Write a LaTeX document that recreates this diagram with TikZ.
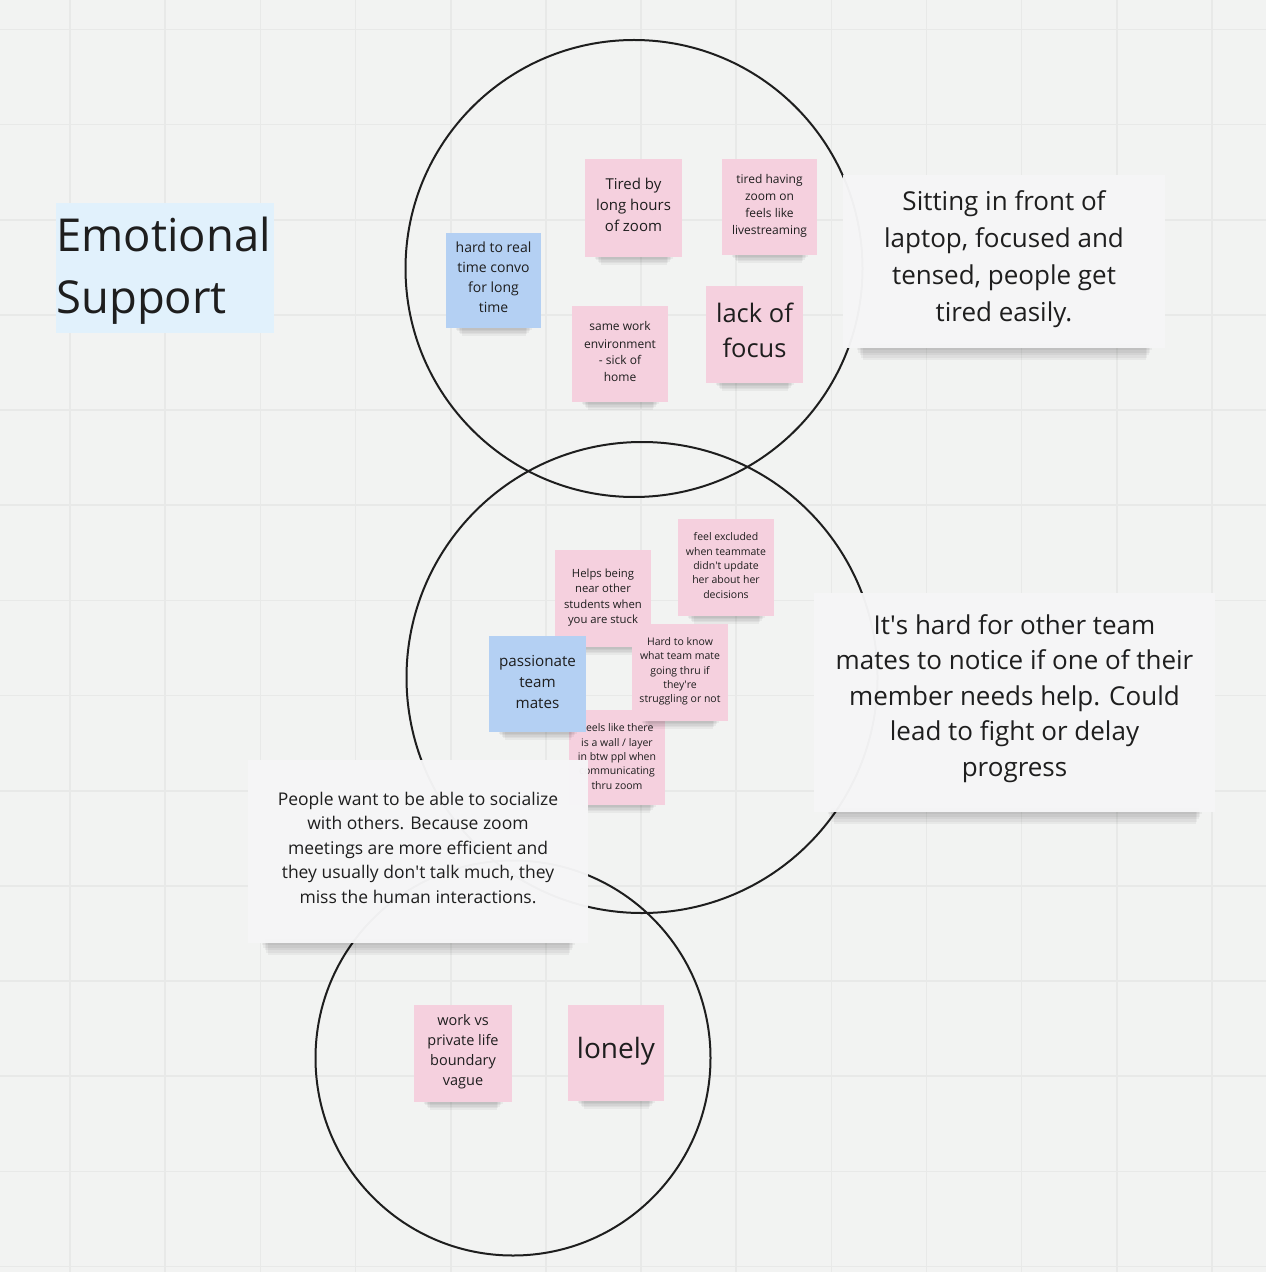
\documentclass[tikz,border=0pt]{standalone}
\usepackage{fontspec}
\setmainfont{Open Sans}
\newcommand\myfs[2]{\fontsize{#1}{#2}\selectfont}
% soft shadow below a box: x1, x2, y bottom, spread (pixels)
\newcommand\shd[4]{%
  \foreach \k in {1,...,5}{%
    \fill[black,opacity=0.045] ({#1+#4+\k*1.5},{#3-4}) rectangle ({#2-#4-\k*1.5},{#3+#4*\k/5});
  }}
\definecolor{bgc}{HTML}{F2F3F2}
\definecolor{gridc}{HTML}{E8E9E8}
\definecolor{pinkn}{HTML}{F5D0DE}
\definecolor{bluen}{HTML}{B4D0F3}
\definecolor{titlec}{HTML}{E1F1FC}
\definecolor{boxc}{HTML}{F6F6F7}
\definecolor{ink}{HTML}{1E1E1E}
\tikzset{
  note/.style={inner sep=0pt},
  pinknote/.style={note, fill=pinkn},
  bluenote/.style={note, fill=bluen},
  ntext/.style={inner sep=0pt, align=center, text=ink},
  tbox/.style={fill=boxc, fill opacity=0.97, inner sep=0pt},
  ring/.style={draw=ink, line width=1pt},
}
\begin{document}
\begin{tikzpicture}[x=0.5pt,y=-0.5pt]
\useasboundingbox (0,0) rectangle (1266,1272);
\fill[bgc] (0,0) rectangle (1266,1272);
\foreach \i in {0,...,12} \draw[gridc, line width=0.8pt] ({70.1+95.15*\i},0) -- ({70.1+95.15*\i},1272);
\foreach \i in {0,...,13} \draw[gridc, line width=0.8pt] (0,{29.5+95.15*\i}) -- (1266,{29.5+95.15*\i});

% title
\node[fill=titlec, minimum width=109pt, minimum height=65pt, inner sep=0pt] (title) at (165,268) {};
\node[text=ink, text width=108pt, inner sep=0pt, align=left, font=\myfs{22.7}{31}] (titletext) at (164.5,270.5) {Emotional\\Support};

% circles
\node[ring, circle, minimum size=228.5pt, inner sep=0pt] (c1) at (634,268.5) {};
\node[ring, circle, minimum size=235.5pt, inner sep=0pt] (c2) at (642,677.5) {};
\node[ring, circle, minimum size=197.5pt, inner sep=0pt] (c3) at (513,1058) {};

% circle 1 notes
\shd{446}{541}{328}{8}
\node[bluenote, minimum width=47.5pt, minimum height=47.5pt] (n1) at (493.5,280.5) {};
\node[ntext, font=\myfs{7}{10}] (n1t) at ([yshift=1.5pt]n1.center) {hard to real\\time convo\\for long\\time};
\shd{585}{682}{257}{8}
\node[pinknote, minimum width=48.5pt, minimum height=49pt] (n2) at (633.5,208) {};
\node[ntext, font=\myfs{7.5}{10.5}] (n2t) at ([yshift=1.5pt]n2.center) {Tired by\\long hours\\of zoom};
\shd{722}{817}{255}{8}
\node[pinknote, minimum width=47.5pt, minimum height=48pt] (n3) at (769.5,207) {};
\node[ntext, font=\myfs{6}{8.5}] (n3t) at ([yshift=0.5pt]n3.center) {tired having\\zoom on\\feels like\\livestreaming};
\shd{572}{668}{402}{8}
\node[pinknote, minimum width=48pt, minimum height=48pt] (n4) at (620,354) {};
\node[ntext, font=\myfs{6}{8.5}] (n4t) at ([yshift=1pt]n4.center) {same work\\environment\\- sick of\\home};
\shd{706}{803}{383}{8}
\node[pinknote, minimum width=48.5pt, minimum height=48.5pt] (n5) at (754.5,334.5) {};
\node[ntext, font=\myfs{12.75}{17.5}] (n5t) at ([yshift=2pt]n5.center) {lack of\\focus};

% text box A
\shd{843}{1165}{348}{12}
\node[tbox, minimum width=161pt, minimum height=86.5pt] (ta) at (1004,261.5) {};
\node[ntext, font=\myfs{13}{18.5}] (tat) at ([yshift=1pt]ta.center) {Sitting in front of\\laptop, focused and\\tensed, people get\\tired easily.};

% circle 2 notes
\shd{569}{665}{805}{8}
\node[pinknote, minimum width=48pt, minimum height=47.5pt] (n10) at (617,757.5) {};
\node[ntext, font=\myfs{5.25}{7.15}] (n10t) at ([yshift=0.5pt]n10.center) {Feels like there\\is a wall / layer\\in btw ppl when\\communicating\\thru zoom};
\shd{555}{651}{647}{8}
\node[pinknote, minimum width=48pt, minimum height=48.5pt] (n7) at (603,598.5) {};
\node[ntext, font=\myfs{5.65}{7.65}] (n7t) at ([yshift=0.5pt]n7.center) {Helps being\\near other\\students when\\you are stuck};
\shd{678}{774}{616}{8}
\node[pinknote, minimum width=48pt, minimum height=48.5pt] (n6) at (726,567.5) {};
\node[ntext, font=\myfs{5.25}{7.15}] (n6t) at ([yshift=1pt]n6.center) {feel excluded\\when teammate\\didn\textquotesingle t update\\her about her\\decisions};
\shd{489}{586}{732}{8}
\node[bluenote, minimum width=48.5pt, minimum height=48pt] (n9) at (537.5,684) {};
\node[ntext, font=\myfs{7.6}{10.5}] (n9t) at ([yshift=1pt]n9.center) {passionate\\team\\mates};
\shd{632}{728}{721}{8}
\node[pinknote, minimum width=48pt, minimum height=48.5pt] (n8) at (680,672.5) {};
\node[ntext, font=\myfs{5.25}{7.15}] (n8t) at ([yshift=0.5pt]n8.center) {Hard to know\\what team mate\\going thru if\\they\textquotesingle re\\struggling or not};

% text box B
\shd{814}{1215}{812}{12}
\node[tbox, minimum width=200.5pt, minimum height=109.5pt] (tb) at (1014.5,702.5) {};
\node[ntext, font=\myfs{13}{17.75}] (tbt) at ([yshift=2pt]tb.center) {It\textquotesingle s hard for other team\\mates to notice if one of their\\member needs help. Could\\lead to fight or delay\\progress};

% text box C
\shd{248}{588}{943}{12}
\node[tbox, minimum width=170pt, minimum height=91.5pt] (tc) at (418,851.5) {};
\node[ntext, font=\myfs{8.75}{12.25}] (tct) at ([yshift=2pt]tc.center) {People want to be able to socialize\\with others. Because zoom\\meetings are more efficient and\\they usually don\textquotesingle t talk much, they\\miss the human interactions.};

% circle 3 notes
\shd{414}{512}{1102}{8}
\node[pinknote, minimum width=49pt, minimum height=48.5pt] (n11) at (463,1053.5) {};
\node[ntext, font=\myfs{7.25}{10}] (n11t) at ([yshift=1pt]n11.center) {work vs\\private life\\boundary\\vague};
\shd{568}{664}{1101}{8}
\node[pinknote, minimum width=48pt, minimum height=48pt] (n12) at (616,1053) {};
\node[ntext, font=\myfs{14}{19}] (n12t) at ([yshift=1pt]n12.center) {lonely};
\end{tikzpicture}
\end{document}
